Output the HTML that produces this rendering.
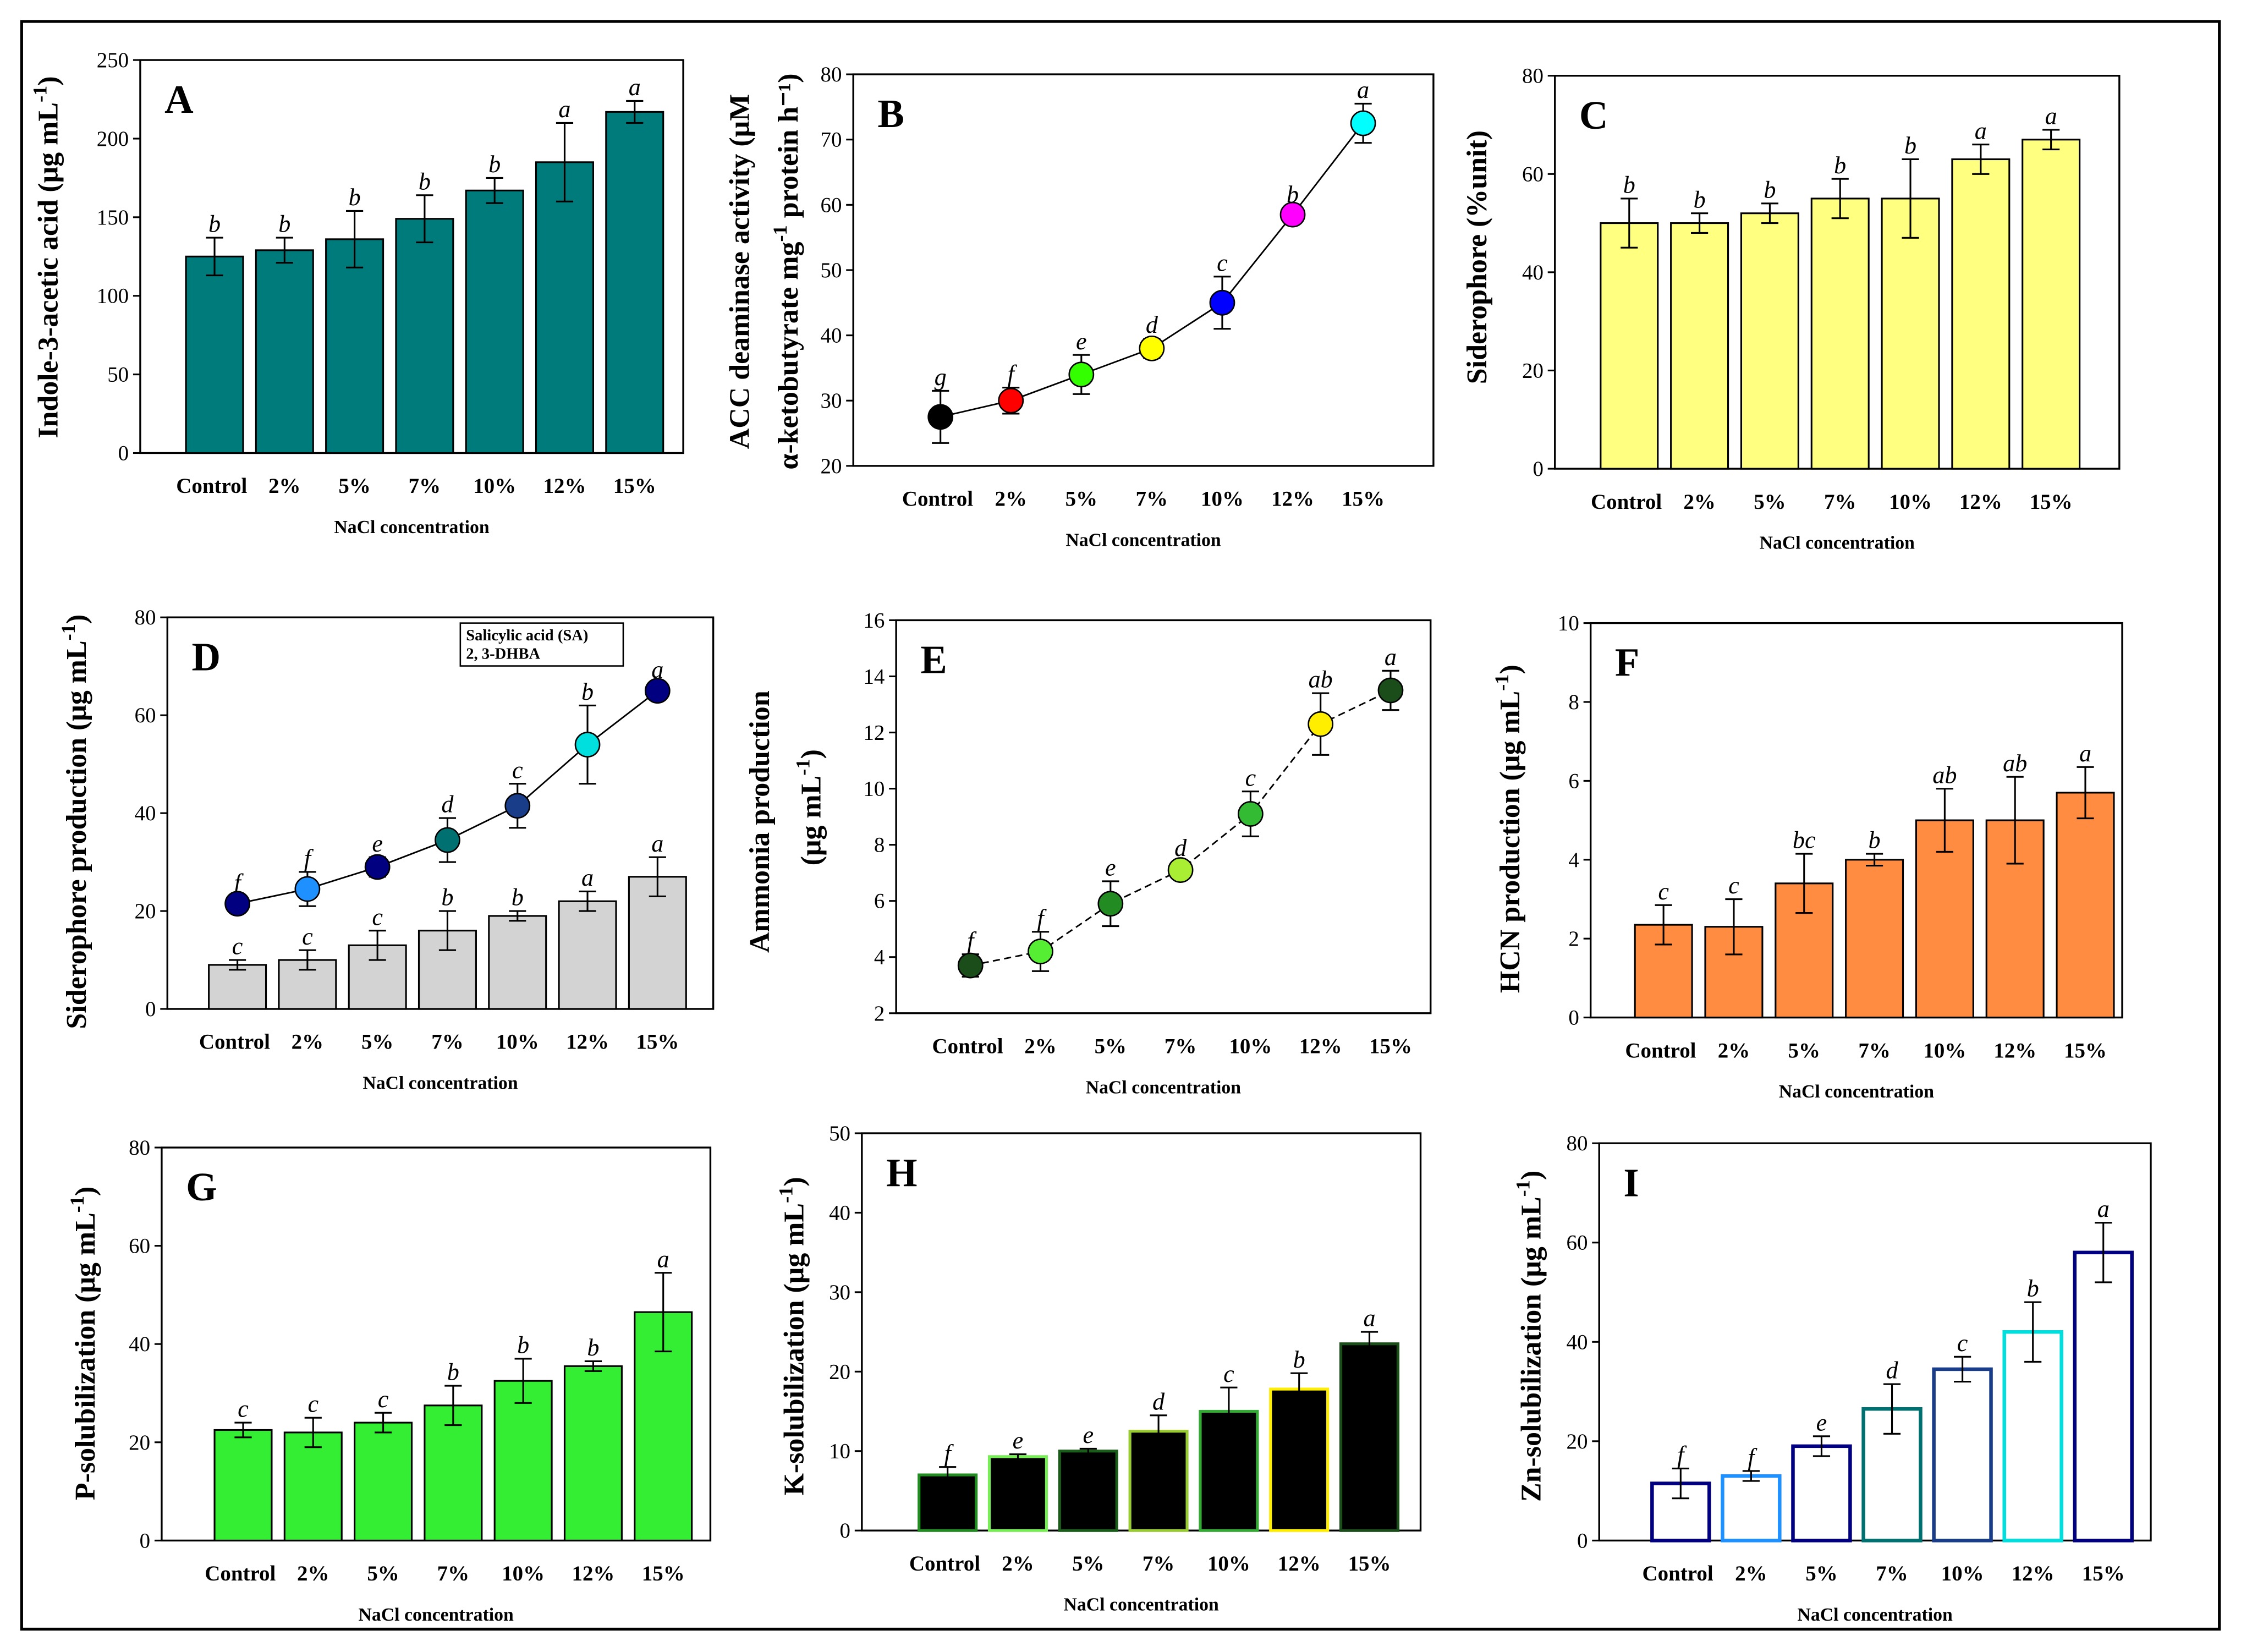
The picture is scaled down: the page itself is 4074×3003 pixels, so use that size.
<!DOCTYPE html>
<html><head><meta charset="utf-8"><style>
html,body{margin:0;padding:0;background:#fff;}
svg{display:block;}
text{font-family:"Liberation Serif",serif;}
</style></head><body>
<svg id="fig" width="4074" height="3003" viewBox="0 0 1568 1156" xmlns="http://www.w3.org/2000/svg">
<rect x="15" y="15" width="1538" height="1125" fill="#fff" stroke="#000" stroke-width="2"/>
</svg>
<script>
const cats = ["Control","2%","5%","7%","10%","12%","15%"];
const aVals = [125,129,136,149,167,185,217];
const aErr = [12,8,18,15,8,25,7];
const aLet = ["b","b","b","b","b","a","a"];
const aTicks = [0,50,100,150,200,250];
const bVals = [27.5,30,34,38,45,58.5,72.5];
const bErr = [4,2,3,1.5,4,1,3];
const bLet = ["g","f","e","d","c","b","a"];
const bTicks = [20,30,40,50,60,70,80];
const cVals = [50,50,52,55,55,63,67];
const cErr = [5,2,2,4,8,3,2];
const cLet = ["b","b","b","b","b","a","a"];
const cTicks = [0,20,40,60,80];
const dLineVals = [21.5,24.5,29,34.5,41.5,54,65];
const dLineErr = [1.5,3.5,2,4.5,4.5,8,1.5];
const dLineLet = ["f","f","e","d","c","b","a"];
const dBarVals = [9,10,13,16,19,22,27];
const dBarErr = [1,2,3,4,1,2,4];
const dBarLet = ["c","c","c","b","b","a","a"];
const dTicks = [0,20,40,60,80];
const eVals = [3.7,4.2,5.9,7.1,9.1,12.3,13.5];
const eErr = [0.4,0.7,0.8,0.3,0.8,1.1,0.7];
const eLet = ["f","f","e","d","c","ab","a"];
const eTicks = [2,4,6,8,10,12,14,16];
const fVals = [2.35,2.3,3.4,4.0,5.0,5.0,5.7];
const fErr = [0.5,0.7,0.75,0.15,0.8,1.1,0.65];
const fLet = ["c","c","bc","b","ab","ab","a"];
const fTicks = [0,2,4,6,8,10];
const gVals = [22.5,22,24,27.5,32.5,35.5,46.5];
const gErr = [1.5,3,2,4,4.5,1,8];
const gLet = ["c","c","c","b","b","b","a"];
const gTicks = [0,20,40,60,80];
const hVals = [7,9.3,10,12.5,15,17.8,23.5];
const hErr = [1,0.3,0.3,2,3,2,1.5];
const hLet = ["f","e","e","d","c","b","a"];
const hTicks = [0,10,20,30,40,50];
const iVals = [11.5,13,19,26.5,34.5,42,58];
const iErr = [3,1,2,5,2.5,6,6];
const iLet = ["f","f","e","d","c","b","a"];
const iTicks = [0,20,40,60,80];

const NS="http://www.w3.org/2000/svg";
const svg=document.getElementById('fig');
function mk(tag,attrs,parent,txt){const e=document.createElementNS(NS,tag);for(const k in attrs)e.setAttribute(k,attrs[k]);if(txt!==undefined)e.textContent=txt;(parent||svg).appendChild(e);return e;}

function panel(p){
  const g=mk('g',{});
  
  
  const ys=v=>p.y1-(v-p.ymin)/(p.ymax-p.ymin)*(p.y1-p.y0);
  const step=p.sp||49.2;
  const xs=i=>p.c0+step*i;
  const fr=mk('rect',{x:p.x0,y:p.y0,width:p.x1-p.x0,height:p.y1-p.y0,fill:'none',stroke:'#000','stroke-width':1.3},g);
  
  
  p.ticks.forEach(t=>{
    mk('line',{x1:p.x0-5,x2:p.x0,y1:ys(t),y2:ys(t),stroke:'#000','stroke-width':1.2},g);
    const tl=mk('text',{x:p.x0-8,y:ys(t)+5,'text-anchor':'end','font-size':15},g,t);
    
    
  });
  cats.forEach((c,i)=>{
    const xl=mk('text',{x:xs(i)-(i===0?2:0),y:p.y1+28,'text-anchor':'middle','font-size':15,'font-weight':'bold'},g,c);
    
    
  });
  const xt=mk('text',{x:(p.x0+p.x1)/2,y:p.y1+56,'text-anchor':'middle','font-size':13,'font-weight':'bold'},g,'NaCl concentration');
  
  
  const pl=mk('text',{x:p.x0+17,y:p.y0+37,'font-size':28,'font-weight':'bold'},g,p.id);
  
  
  p.ylab.forEach(L=>{
    const t=mk('text',{transform:`translate(${L.x},${L.y}) rotate(-90)`,'text-anchor':'middle','font-size':20,'font-weight':'bold'},g);
    
    
    mk('tspan',{},t,L.t);
    if(L.sup){mk('tspan',{'baseline-shift':'super','font-size':14},t,L.sup);mk('tspan',{},t,L.after||'');}
  });
  const bw=40;
  function errbar(x,v,e,lt){
    mk('line',{x1:x,x2:x,y1:ys(v-e),y2:ys(v+e),stroke:'#000','stroke-width':1.2},g);
    mk('line',{x1:x-6,x2:x+6,y1:ys(v+e),y2:ys(v+e),stroke:'#000','stroke-width':1.2},g);
    mk('line',{x1:x-6,x2:x+6,y1:ys(v-e),y2:ys(v-e),stroke:'#000','stroke-width':1.2},g);
    const l=mk('text',{x:x,y:ys(v+e)-4,'text-anchor':'middle','font-size':17,'font-style':'italic'},g,lt);
    
    
  }
  if(p.bars){p.bars.forEach(B=>{
    B.vals.forEach((v,i)=>{
      const r=mk('rect',{x:xs(i)-bw/2,y:ys(v),width:bw,height:ys(p.ymin)-ys(v),fill:B.fill[i]||B.fill[0],stroke:B.stroke?B.stroke[i]:'#000','stroke-width':B.sw||1.2},g);
      
      
      errbar(xs(i),v,B.err[i],B.let[i]);
    });
  });}
  if(p.lines){p.lines.forEach(L=>{
    const d=L.vals.map((v,i)=>(i?'L':'M')+xs(i)+','+ys(v)).join(' ');
    const pa=mk('path',{d:d,fill:'none',stroke:'#000','stroke-width':1.1,'stroke-dasharray':L.dash||'none'},g);
    
    
    L.vals.forEach((v,i)=>{
      errbar(xs(i),v,L.err[i],L.let[i]);
      const c=mk('circle',{cx:xs(i),cy:ys(v),r:8.5,fill:L.colors[i],stroke:'#000','stroke-width':1},g);
      
      
    });
  });}
  return g;
}

panel({id:'A',x0:98,x1:478,y0:42,y1:317,c0:150,sp:49,ymin:0,ymax:250,ticks:aTicks,
  ylab:[{x:40,y:180,t:'Indole-3-acetic acid (μg mL',sup:'-1',after:')'}],
  bars:[{vals:aVals,err:aErr,let:aLet,fill:['#007b7b']}]});
panel({id:'B',x0:597,x1:1003,y0:52,y1:326,c0:658,sp:49.3,ymin:20,ymax:80,ticks:bTicks,
  ylab:[{x:524,y:190,t:'ACC deaminase activity (μM'},{x:558,y:190,t:'α-ketobutyrate mg',sup:'-1',after:' protein h⁻¹)'}],
  lines:[{vals:bVals,err:bErr,let:bLet,colors:['#000','#ff0000','#33ff00','#ffff00','#0000ff','#ff00ff','#00ffff']}]});
panel({id:'C',x0:1088,x1:1483,y0:53,y1:328,c0:1140,sp:49.2,ymin:0,ymax:80,ticks:cTicks,
  ylab:[{x:1040,y:180,t:'Siderophore (%unit)'}],
  bars:[{vals:cVals,err:cErr,let:cLet,fill:['#ffff80']}]});
panel({id:'D',x0:117,x1:499,y0:432,y1:706,c0:166,sp:49,ymin:0,ymax:80,ticks:dTicks,
  ylab:[{x:60,y:575,t:'Siderophore production (μg mL',sup:'-1',after:')'}],
  bars:[{vals:dBarVals,err:dBarErr,let:dBarLet,fill:['#d3d3d3']}],
  lines:[{vals:dLineVals,err:dLineErr,let:dLineLet,colors:['#000080','#1e90ff','#000080','#007070','#1a3d8a','#00dede','#000080']}]});
panel({id:'E',x0:627,x1:1001,y0:434,y1:709,c0:679,sp:49,ymin:2,ymax:16,ticks:eTicks,
  ylab:[{x:538,y:575,t:'Ammonia production'},{x:574,y:565,t:'(μg mL',sup:'-1',after:')'}],
  lines:[{vals:eVals,err:eErr,let:eLet,dash:'5,3',colors:['#1a4d1a','#55ee33','#228b22','#aaee33','#33bb33','#ffee00','#1a4d1a']}]});
panel({id:'F',x0:1113,x1:1485,y0:436,y1:712,c0:1164,sp:49.2,ymin:0,ymax:10,ticks:fTicks,
  ylab:[{x:1063,y:580,t:'HCN production (μg mL',sup:'-1',after:')'}],
  bars:[{vals:fVals,err:fErr,let:fLet,fill:['#ff8c40']}]});
panel({id:'G',x0:113,x1:497,y0:803,y1:1078,c0:170,sp:49,ymin:0,ymax:80,ticks:gTicks,
  ylab:[{x:66,y:940,t:'P-solubilization (μg mL',sup:'-1',after:')'}],
  bars:[{vals:gVals,err:gErr,let:gLet,fill:['#33ee33']}]});
panel({id:'H',x0:603,x1:994,y0:793,y1:1071,c0:663,sp:49.2,ymin:0,ymax:50,ticks:hTicks,
  ylab:[{x:562,y:935,t:'K-solubilization (μg mL',sup:'-1',after:')'}],
  bars:[{vals:hVals,err:hErr,let:hLet,fill:['#000'],sw:2,stroke:['#228b22','#77ee55','#1a5d1a','#99cc33','#33aa33','#ffee00','#1a4d1a']}]});
panel({id:'I',x0:1119,x1:1505,y0:800,y1:1078,c0:1176,sp:49.3,ymin:0,ymax:80,ticks:iTicks,
  ylab:[{x:1078,y:935,t:'Zn-solubilization (μg mL',sup:'-1',after:')'}],
  bars:[{vals:iVals,err:iErr,let:iLet,fill:['#fff'],sw:2.5,stroke:['#000080','#1e90ff','#000080','#007070','#1a3d8a','#00dede','#000080']}]});

const lg=mk('g',{});


mk('rect',{x:322,y:436,width:114,height:30,fill:'#fff',stroke:'#000','stroke-width':1},lg);
const l1=mk('text',{x:326,y:448,'font-size':11,'font-weight':'bold'},lg,'Salicylic acid (SA)');


const l2=mk('text',{x:326,y:461,'font-size':11,'font-weight':'bold'},lg,'2, 3-DHBA');


</script>
</body></html>
